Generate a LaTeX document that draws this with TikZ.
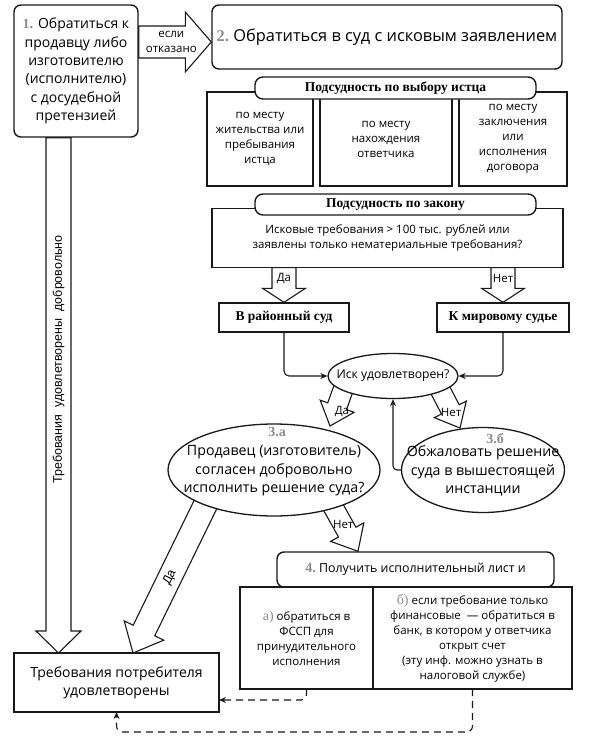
\documentclass[tikz,border=0pt]{standalone}
\usepackage{fontspec}
\setmainfont{Open Sans}
\newfontfamily\hdrfont{Liberation Serif}
\newfontfamily\arialfont{Liberation Sans}
\usetikzlibrary{shapes.geometric,arrows.meta,positioning,backgrounds,calc}
\definecolor{lineclr}{RGB}{25,25,25}
\definecolor{numclr}{RGB}{140,140,140}
\newcommand{\numf}{\hdrfont\bfseries\color{numclr}}
\newcommand{\numl}{\hdrfont\fontsize{14}{15}\selectfont\color{numclr}}
% block arrow: from, to, half shaft, half head, head length
\newcommand{\blkarrow}[5]{%
  \coordinate (hb) at ($(#2)!#5!(#1)$);
  \draw[blk] ($(#1)!#3!90:(#2)$) -- ($(hb)!#3!-90:(#1)$) -- ($(hb)!#4!-90:(#1)$)
    -- (#2) -- ($(hb)!#4!90:(#1)$) -- ($(hb)!#3!90:(#1)$)
    -- ($(#1)!#3!-90:(#2)$) -- cycle;
}
\tikzset{
  stepblk/.style={rectangle,rounded corners=7pt,draw=lineclr,line width=1.4pt,
    fill=white,align=center,inner sep=3pt},
  hdrblk/.style={rectangle,rounded corners=8pt,draw=lineclr,line width=1.4pt,
    fill=white,inner sep=0pt,font=\hdrfont\bfseries\fontsize{13.5}{16}\selectfont},
  optblk/.style={rectangle,draw=lineclr,line width=1.4pt,fill=white,
    align=center,outer sep=0pt,font=\fontsize{11.5}{15}\selectfont},
  courtblk/.style={rectangle,draw=lineclr,line width=1.4pt,fill=white,
    font=\hdrfont\bfseries\fontsize{13.5}{16}\selectfont},
  ovl/.style={ellipse,draw=lineclr,line width=1.3pt,fill=white},
  ovltxt/.style={align=center,inner sep=0pt,font=\fontsize{14.2}{18.6}\selectfont},
  numlbl/.style={text=numclr,inner sep=0pt,font=\hdrfont\bfseries\fontsize{14}{16}\selectfont},
  blk/.style={draw=lineclr,line width=1.1pt,fill=white,line join=miter},
  lbl/.style={font=\fontsize{11.5}{15}\selectfont,align=center,inner sep=0pt},
  vlbl/.style={font=\arialfont\fontsize{12.5}{15}\selectfont,inner sep=0pt},
  arr/.style={-{Stealth[length=7pt,width=6pt]},line width=1.1pt,color=lineclr},
  darr/.style={arr,dash pattern=on 7pt off 5pt},
}
\begin{document}
\begin{tikzpicture}[x=1pt,y=-1pt]
  \useasboundingbox (0,0) rectangle (591,739);

  %% Pre-trial claim and lawsuit
  \node[stepblk,minimum width=124pt,minimum height=132pt,
        font=\fontsize{14}{18.4}\selectfont] (step1) at (76,71)
        {{\numf 1.} Обратиться к\\продавцу либо\\изготовителю\\(исполнителю)\\с досудебной\\претензией};
  \node[stepblk,minimum width=350pt,minimum height=64pt,
        font=\fontsize{16.4}{20}\selectfont] (step2) at (387,37)
        {{\numf 2.}\ Обратиться в суд с исковым заявлением};

  %% Jurisdiction chosen by the claimant
  \node[optblk,minimum width=106pt,minimum height=94pt] (ch1) at (260,139)
        {по месту\\жительства или\\пребывания\\истца};
  \node[optblk,minimum width=132pt,minimum height=94pt,right=7pt of ch1] (ch2)
        {по месту\\нахождения\\ответчика};
  \node[optblk,minimum width=108pt,minimum height=94pt,right=7pt of ch2] (ch3)
        {по месту\\заключения\\или\\исполнения\\договора};
  \node[hdrblk,minimum width=281pt,minimum height=22pt] (hdr1) at (395.5,88)
        {Подсудность\ по\ выбору истца};

  %% Jurisdiction by law
  \node[optblk,minimum width=351pt,minimum height=59pt] (law) at (387.5,238)
        {Исковые требования > 100 тыс. рублей или\\заявлены только нематериальные требования?};
  \node[hdrblk,minimum width=281pt,minimum height=21pt] (hdr2) at (395.5,204.5)
        {Подсудность\ по закону};
  \node[courtblk,minimum width=130pt,minimum height=29pt] (rayon) at (284,317.5) {В районный суд};
  \node[courtblk,minimum width=132pt,minimum height=29pt] (mir) at (503,317.5) {К мировому судье};

  %% Decisions
  \node[ovl,minimum width=130pt,minimum height=45pt] (isk) at (393,376) {};
  \node[ovltxt,font=\fontsize{12.2}{15}\selectfont] (iskt) at (isk) {Иск удовлетворен?};
  \node[ovl,minimum width=212pt,minimum height=92pt] (prod) at (274,470) {};
  \node[ovltxt] (prodt) at ([yshift=-1pt]prod.center) {Продавец (изготовитель)\\согласен добровольно\\исполнить решение суда?};
  \node[numlbl] (prodn) at ([shift={(3pt,38pt)}]prod.center) {3.а};
  \node[ovl,minimum width=163pt,minimum height=85pt] (appeal) at (483,470) {};
  \node[ovltxt] (appealt) at ([yshift=-1pt]appeal.center) {Обжаловать решение\\суда в вышестоящей\\инстанции};
  \node[numlbl] (appealn) at ([shift={(12pt,31pt)}]appeal.center) {3.б};

  %% Enforcement
  \node[stepblk,minimum width=277pt,minimum height=35pt,
        font=\fontsize{12.4}{15}\selectfont] (exec) at (415.5,569.5)
        {{\numf\fontsize{14}{15}\selectfont 4.}\ Получить исполнительный лист и};
  \node[optblk,minimum width=133pt,minimum height=102pt] (opt1) at (306.5,638)
        {{\numl а)} обратиться в\\ФССП для\\принудительного\\исполнения};
  \node[optblk,minimum width=199pt,minimum height=102pt,right=0pt of opt1] (opt2)
        {{\numl б)} если требование только\\финансовые \ — обратиться в\\банк, в котором у ответчика\\открыт счет\\(эту инф. можно узнать в\\налоговой службе)};
  \node[optblk,minimum width=205pt,minimum height=59pt,
        font=\fontsize{14}{18.3}\selectfont] (final) at (116.5,682.5)
        {Требования потребителя\\удовлетворены};

  %% Thin connectors
  \draw[arr,rounded corners=5pt] (rayon.south) |- (isk.west);
  \draw[arr,rounded corners=5pt] (mir.south) |- (isk.east);
  \draw[arr,rounded corners=4pt] (appeal.west) -| (isk.south);
  \draw[darr,rounded corners=5pt] (opt1.south) |- ([yshift=-17.5pt]final.east);
  \draw[darr,rounded corners=6pt] (opt2.south) -- ++(0,43) -| (final.south);

  %% Block arrows
  \coordinate (refe) at ([yshift=-5pt]step2.west);
  \coordinate (refs) at (step1.east |- refe);
  \coordinate (vols) at ([xshift=-17.5pt]step1.south);
  \coordinate (vole) at (vols |- final.north);
  \coordinate (yes0e) at (rayon.north);
  \coordinate (yes0s) at (law.south -| yes0e);
  \coordinate (no0e) at (mir.north);
  \coordinate (no0s) at (law.south -| no0e);
  \coordinate (yes1s) at ([xshift=-45pt]isk.center);
  \coordinate (yes1e) at ([shift={(56pt,44pt)}]prod.center);
  \coordinate (no1s) at ([xshift=40pt]isk.center);
  \coordinate (no1e) at ([shift={(-23pt,42pt)}]appeal.center);
  \coordinate (yes2s) at ([shift={(-59pt,-15pt)}]prod.center);
  \coordinate (yes2e) at ([xshift=16.5pt]final.north);
  \coordinate (no2s) at ([shift={(44pt,-10pt)}]prod.center);
  \coordinate (no2e) at ([xshift=-57.5pt]exec.north);
  \begin{scope}[on background layer]
    \fill[white] (0,0) rectangle (591,739);
    \blkarrow{refs}{refe}{16pt}{30pt}{26pt}
    \blkarrow{vols}{vole}{12.5pt}{22.5pt}{22pt}
    \blkarrow{yes0s}{yes0e}{12pt}{21.5pt}{14pt}
    \blkarrow{no0s}{no0e}{12pt}{21.5pt}{14pt}
    \blkarrow{yes1s}{yes1e}{10pt}{18pt}{21pt}
    \blkarrow{no1s}{no1e}{10pt}{18pt}{21pt}
    \blkarrow{yes2s}{yes2e}{12pt}{22pt}{25pt}
    \blkarrow{no2s}{no2e}{10pt}{19pt}{22pt}
  \end{scope}

  %% Arrow labels
  \node[lbl] (refl) at ($(refs)!0.45!(refe)$) {если\\отказано};
  \node[vlbl,rotate=90] (voll) at ($(vols)!0.43!(vole)$) {Требования\ \ удовлетворены\ \ добровольно};
  \node[lbl] (yes0l) at ($(yes0s)!0.32!(yes0e)$) {Да};
  \node[lbl] (no0l) at ($(no0s)!0.32!(no0e)$) {Нет};
  \node[lbl] (yes1l) at ([shift={(-51pt,-35pt)}]isk.center) {Да};
  \node[lbl] (no1l) at ([shift={(58pt,-36pt)}]isk.center) {Нет};
  \node[vlbl,rotate=64] (yes2l) at ($(yes2s)!0.55!(yes2e)$) {Да};
  \node[lbl] (no2l) at ($(no2s)!0.63!(no2e)$) {Нет};

\end{tikzpicture}
\end{document}
